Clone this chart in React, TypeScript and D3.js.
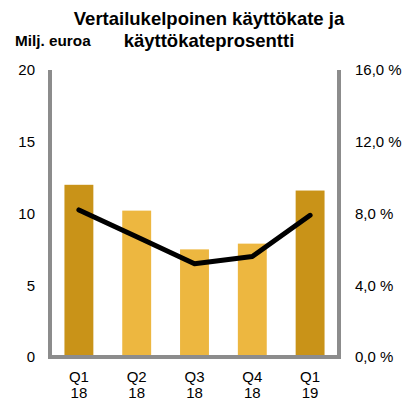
import React from "react";
import * as d3 from "d3";

const categories = ["Q1 18", "Q2 18", "Q3 18", "Q4 18", "Q1 19"];
const ebitda = [12.0, 10.2, 7.5, 7.9, 11.6];
const margin = [8.2, 6.7, 5.2, 5.6, 7.9];
const highlight = [true, false, false, false, true];
const leftTicks = [0, 5, 10, 15, 20];
const rightTicks = [0, 4, 8, 12, 16];
const titleLines = ["Vertailukelpoinen käyttökate ja", "käyttökateprosentti"];
const unitLabel = "Milj. euroa";

const W = 410;
const H = 401;
const x0 = 50;
const x1 = 339;
const yTop = 70;
const yBottom = 357;

export default function App() {
  const x = d3.scaleBand<string>().domain(categories).range([x0, x1]).paddingInner(0.5).paddingOuter(0.25);
  const yL = d3.scaleLinear().domain([0, 20]).range([yBottom, yTop]);
  const yR = d3.scaleLinear().domain([0, 16]).range([yBottom, yTop]);
  const line = d3
    .line<number>()
    .x((_, i) => (x(categories[i]) as number) + x.bandwidth() / 2)
    .y((d) => yR(d));
  const font = "Arial, 'Liberation Sans', sans-serif";
  return (
    <svg
      width={W}
      height={H}
      style={{ position: "absolute", left: 0, top: 0, background: "#fff" }}
      fontFamily={font}
    >
      {titleLines.map((t, i) => (
        <text key={t} x={209} y={25 + i * 22} textAnchor="middle" fontSize={18.5} fontWeight="bold" fill="#000">
          {t}
        </text>
      ))}
      <text x={15} y={46} fontSize={15.3} fontWeight="bold" fill="#000">
        {unitLabel}
      </text>
      {ebitda.map((v, i) => (
        <rect
          key={categories[i]}
          x={x(categories[i])}
          y={yL(v)}
          width={x.bandwidth()}
          height={yBottom - yL(v)}
          fill={highlight[i] ? "#C99318" : "#EDB740"}
        />
      ))}
      <path
        d={line(margin) || ""}
        fill="none"
        stroke="#000"
        strokeWidth={5}
        strokeLinecap="round"
        strokeLinejoin="round"
      />
      <path
        d={`M${x0},${yTop} V${yBottom} H${x1} V${yTop}`}
        fill="none"
        stroke="#8c8c8c"
        strokeWidth={4}
      />
      {leftTicks.map((t) => (
        <text key={t} x={35} y={yL(t)} dy="0.35em" textAnchor="end" fontSize={15} fill="#000">
          {t}
        </text>
      ))}
      {rightTicks.map((t) => (
        <text key={t} x={355} y={yR(t)} dy="0.35em" textAnchor="start" fontSize={15} fill="#000">
          {d3.format(".1f")(t).replace(".", ",") + " %"}
        </text>
      ))}
      {categories.map((c) => {
        const [q, yr] = c.split(" ");
        const cx = (x(c) as number) + x.bandwidth() / 2;
        return (
          <g key={c}>
            <text x={cx} y={377} dy="0.35em" textAnchor="middle" fontSize={15} fill="#000">
              {q}
            </text>
            <text x={cx} y={393} dy="0.35em" textAnchor="middle" fontSize={15} fill="#000">
              {yr}
            </text>
          </g>
        );
      })}
    </svg>
  );
}
